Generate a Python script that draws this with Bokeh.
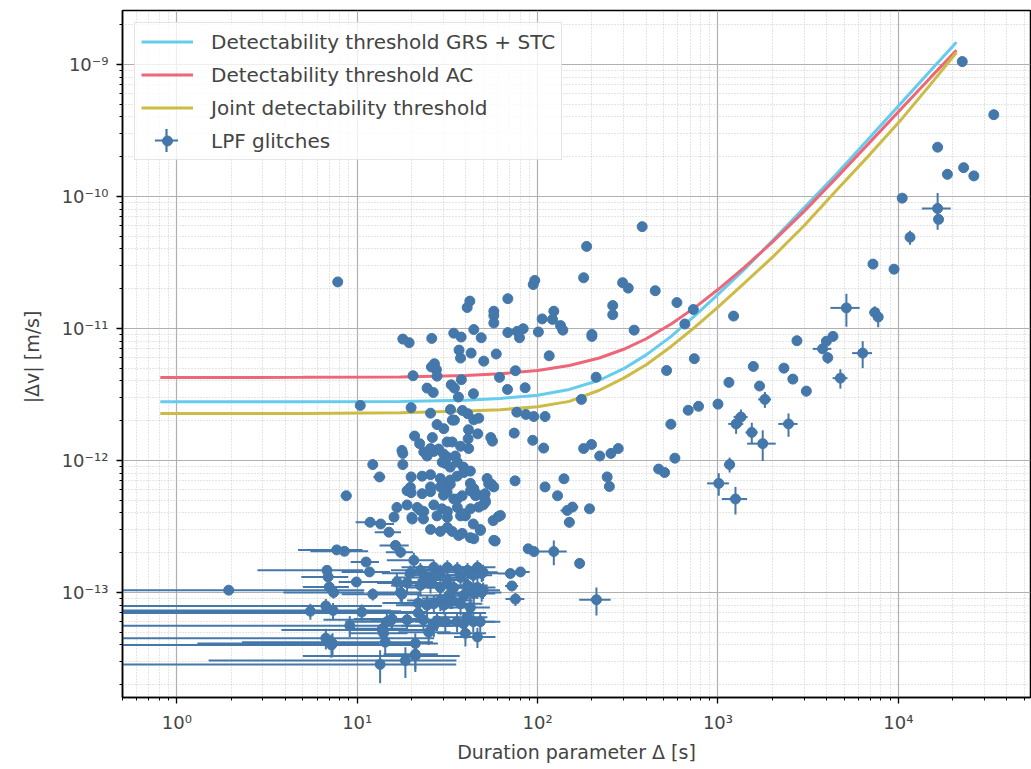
import numpy as np
from bokeh.plotting import figure
from bokeh.models import Legend, LegendItem, CustomJSTickFormatter, LogTicker, Range1d
from bokeh.embed import file_html
from bokeh.resources import INLINE

# ---------------- data ----------------
threshold_duration = [0.81, 5, 17.4, 40, 62, 100, 150, 220, 300, 400, 550, 750, 1000, 1400, 2000, 3000,
                      4500, 7000, 10500, 15000, 20980]
threshold_grs_stc = [2.78e-12, 2.78e-12, 2.8e-12, 2.86e-12, 2.95e-12, 3.12e-12, 3.45e-12, 4.05e-12, 4.95e-12,
                     6.3e-12, 8.7e-12, 1.26e-11, 1.81e-11, 2.8e-11, 4.6e-11, 8.2e-11, 1.46e-10, 2.83e-10,
                     5.2e-10, 8.9e-10, 1.47e-9]
threshold_ac = [4.25e-12, 4.26e-12, 4.29e-12, 4.4e-12, 4.53e-12, 4.8e-12, 5.24e-12, 5.97e-12, 6.95e-12,
                8.35e-12, 1.08e-11, 1.45e-11, 1.97e-11, 2.9e-11, 4.5e-11, 7.7e-11, 1.37e-10, 2.6e-10,
                4.7e-10, 7.9e-10, 1.28e-9]
threshold_joint = [2.27e-12, 2.27e-12, 2.3e-12, 2.37e-12, 2.42e-12, 2.55e-12, 2.8e-12, 3.4e-12, 4.2e-12,
                   5.3e-12, 7.3e-12, 1.03e-11, 1.45e-11, 2.2e-11, 3.45e-11, 6.0e-11, 1.1e-10, 2.1e-10,
                   3.9e-10, 7.0e-10, 1.23e-9]

# glitches whose error bars are hidden behind the marker
glitch_duration = [
    22600, 33800, 16500, 23000, 26200, 10500, 16700, 380, 7230, 9460, 4340, 3990, 2740, 1570, 2320, 1700,
    1150, 1000, 684, 780, 548, 592, 730, 655, 1220, 449, 343, 296, 318, 261, 261, 187, 180, 200, 200, 211,
    519, 739, 175, 180, 199, 221, 255, 280, 577, 469, 506, 243, 194, 140, 110, 129, 88.7, 95.5,
    7.8, 96.5, 94.6, 68.4, 42.1, 40.7, 57.2, 57.2, 57.2, 123, 121, 106, 134, 138, 101, 68.4, 77.1, 83.2,
    79.4, 44.3, 48.7, 34.3, 37.7, 25.9, 17.9, 19.4, 116, 36.7, 37.4, 42.8, 59, 50.3, 26.8, 25.8, 27.5,
    27.7, 20.4, 37.8, 61.5, 75.4, 33.2, 34.6, 24.4, 26.4, 44.1, 68.1, 85.3, 36.4, 10.4, 19.9, 25.5, 32.9,
    38.3, 41, 44.3, 47.2, 33.7, 34.6, 76.7, 86.1, 95.3, 110, 27.7, 30.2, 41.4, 41.2, 46.6, 20.8, 26.1,
    22.2, 74.2, 55, 56.2, 94, 108, 31.5, 33.6, 37.4, 41.5, 23.4, 26.6, 28.3, 17.7, 17.9, 17.9, 12.2,
    19.9, 22.9, 25.5, 35.8, 39, 52.5, 55.5, 75, 44.3, 30.1, 31.6, 29.6, 30.8, 32.8, 35, 35.9, 38.8, 39.8,
    24.4, 25.5, 28.9, 30.1, 32.8, 42.4, 44, 19.7, 25.5, 28.9, 32.8, 42.4,
    18.9, 19.9, 22.9, 25.5, 30.1, 31.5, 34.3, 35.9, 38.2, 42.5, 45.3, 50.4, 53.6, 57.2, 43.4, 46.4, 51.2,
    51.2, 16.6, 18.9, 21.5, 23.4, 26.6, 29.5, 31.6, 35.9, 49.9, 20.1, 23.3, 27.7, 31.6, 37.4, 39.8, 44,
    48.1, 56.7, 60.5, 58.2, 25.5, 28.9, 31.6, 33.6, 38.2, 42.4, 22.4, 39, 42.5, 47.2, 51.4, 36.5, 44.3,
    48.2, 62.2, 57.2, 16.0, 20.2,
]
glitch_dv = [
    1.05e-9, 4.16e-10, 2.36e-10, 1.65e-10, 1.43e-10, 9.7e-11, 6.7e-11, 5.9e-11, 3.07e-11, 2.81e-11, 8.7e-12,
    8.0e-12, 8.07e-12, 5.15e-12, 5.0e-12, 3.66e-12, 3.9e-12, 2.67e-12, 2.4e-12, 2.57e-12, 1.88e-12,
    1.57e-11, 1.39e-11, 1.08e-11, 1.24e-11, 1.93e-11, 9.7e-12, 2.22e-11, 2.02e-11, 1.49e-11, 1.27e-11,
    4.18e-11, 2.42e-11, 9.0e-12, 8.7e-12, 4.27e-12, 4.8e-12, 5.9e-12, 2.9e-12, 1.23e-12, 1.32e-12,
    1.08e-12, 1.13e-12, 1.23e-12, 1.04e-12, 8.6e-13, 8.1e-13, 7.5e-13, 4.3e-13, 7.26e-13, 6.3e-13,
    5.4e-13, 2.14e-13, 2.04e-13,
    2.25e-11, 2.31e-11, 2.15e-11, 1.68e-11, 1.61e-11, 1.44e-11, 1.35e-11, 1.25e-11, 1.1e-11, 1.35e-11,
    1.17e-11, 1.18e-11, 1.05e-11, 9.7e-12, 9.4e-12, 9.3e-12, 9.5e-12, 9.95e-12, 8.5e-12, 9.8e-12, 8.5e-12,
    9.2e-12, 8.6e-12, 8.4e-12, 8.3e-12, 7.8e-12, 6.2e-12, 6.85e-12, 5.96e-12, 6.5e-12, 6.4e-12, 5.65e-12,
    5.4e-12, 5.1e-12, 4.87e-12, 4.35e-12, 4.38e-12, 4.09e-12, 4.26e-12, 4.78e-12, 3.74e-12, 3.53e-12,
    3.53e-12, 3.27e-12, 3.2e-12, 3.45e-12, 3.55e-12, 3.02e-12, 2.61e-12, 2.51e-12, 2.28e-12, 2.43e-12,
    2.39e-12, 2.26e-12, 2.03e-12, 2.09e-12, 2.02e-12, 2.02e-12, 2.32e-12, 2.23e-12, 2.15e-12, 2.15e-12,
    1.87e-12, 1.74e-12, 1.71e-12, 1.46e-12, 1.59e-12, 1.53e-12, 1.49e-12, 1.34e-12, 1.61e-12, 1.49e-12,
    1.4e-12, 1.42e-12, 1.24e-12, 1.38e-12, 1.38e-12, 1.28e-12, 1.23e-12, 1.16e-12, 1.17e-12, 1.22e-12,
    1.19e-12, 1.13e-12, 9.3e-13, 9.3e-13, 7.5e-13, 7.6e-13, 7.8e-13, 7.6e-13, 8.1e-13, 7.3e-13, 6.6e-13,
    7.0e-13, 6.1e-13, 1.12e-12, 1.06e-12, 9.7e-13, 9.5e-13, 8.9e-13, 1.08e-12, 9.7e-13, 8.9e-13, 8.3e-13,
    1.08e-12, 1.23e-12, 7.3e-13, 6.7e-13, 6.6e-13, 6.7e-13, 6.0e-13, 6.25e-13, 6.3e-13, 6.3e-13, 7.1e-13,
    8.3e-13,
    5.9e-13, 5.7e-13, 5.6e-13, 5.8e-13, 5.45e-13, 5.75e-13, 5.1e-13, 5.1e-13, 5.4e-13, 5.9e-13, 5.4e-13,
    5.4e-13, 6.65e-13, 6.3e-13, 5.8e-13, 5.5e-13, 5.6e-13, 5.0e-13, 4.4e-13, 4.6e-13, 4.4e-13, 4.1e-13,
    4.6e-13, 4.3e-13, 4.1e-13, 4.4e-13, 4.6e-13, 3.7e-13, 3.6e-13, 3.8e-13, 3.7e-13, 3.8e-13, 3.8e-13,
    3.3e-13, 3.0e-13, 3.5e-13, 3.75e-13, 2.45e-13, 3.0e-13, 2.9e-13, 3.1e-13, 2.9e-13, 2.8e-13, 2.6e-13,
    4.18e-13, 3.94e-13, 4.3e-13, 4.43e-13, 4.83e-13, 2.7e-13, 2.55e-13, 2.95e-13, 3.83e-13, 2.48e-13,
    3.72e-13, 3.6e-13,
]

# glitches with visible error bars: value and symmetric uncertainty
glitch_eb_duration = [
    16500, 11600, 18700, 5150, 7400, 7730, 3800, 6340, 4060, 4770, 2600, 3090, 1820, 1340, 1260, 1540,
    1770, 2460, 1160, 1010, 1250, 250, 123, 212, 171, 146, 156, 150, 75.4, 70.6, 80.4, 72,
    8.7, 13.3, 11.8, 13.5, 15, 16.3, 17.4, 7.7, 8.5, 11.2, 6.8, 11.7, 6.9, 9.9, 7.0, 1.94, 7.4, 6.7,
    5.5, 10.6, 9.1, 15.5, 13.8, 6.7, 7.2, 14.3, 21, 18.5, 13.4, 21.8,
    20.6, 22.4, 26.6, 28.9, 31.6, 35.9, 40.9, 46.4, 49.9, 19.7, 24.0, 27.3, 31.6, 37.4, 44, 49, 16.6,
    18.9, 22.4, 25.5, 28.9, 34.3, 40.9, 46.4, 49.9, 17.4, 21.8, 24.4, 28.9, 32.8, 37.4, 42.4, 12.2, 17.7,
    32.2, 39, 44.3, 49, 26.6, 30.2, 33.6, 7.35, 14.6, 18.9, 23.3, 26.6, 38.8, 44, 48.1, 27.7, 30.8, 35.8,
    40.7, 24.9, 14.0, 39.8, 46.4, 21, 21, 13.8, 7.3, 15.6,
]
glitch_eb_dv = [
    8.1e-11, 4.9e-11, 1.47e-10, 1.43e-11, 1.32e-11, 1.22e-11, 7.0e-12, 6.5e-12, 6.0e-12, 4.2e-12, 4.13e-12,
    3.35e-12, 2.9e-12, 2.13e-12, 1.89e-12, 1.63e-12, 1.34e-12, 1.89e-12, 9.3e-13, 6.7e-13, 5.1e-13,
    6.35e-13, 2.04e-13, 8.8e-14, 1.66e-13, 4.18e-13, 4.43e-13, 3.4e-13, 8.9e-14, 1.39e-13, 1.43e-13,
    1.12e-13,
    5.4e-13, 7.5e-13, 3.4e-13, 3.3e-13, 2.86e-13, 2.27e-13, 2.02e-13, 2.1e-13, 2.05e-13, 1.7e-13, 1.47e-13,
    1.43e-13, 1.31e-13, 1.2e-13, 1.1e-13, 1.04e-13, 1.0e-13, 7.9e-14, 7.2e-14, 7.1e-14, 5.6e-14, 6.2e-14,
    5.2e-14, 4.5e-14, 4.0e-14, 4.2e-14, 3.3e-14, 3.05e-14, 2.85e-14, 7.0e-14,
    1.75e-13, 1.47e-13, 1.55e-13, 1.42e-13, 1.55e-13, 1.5e-13, 1.47e-13, 1.55e-13, 1.42e-13, 1.4e-13,
    1.3e-13, 1.35e-13, 1.24e-13, 1.3e-13, 1.35e-13, 1.4e-13, 1.2e-13, 1.18e-13, 1.13e-13, 1.18e-13,
    1.09e-13, 1.09e-13, 1.13e-13, 1.09e-13, 1.04e-13, 1.0e-13, 8.3e-14, 8.0e-14, 8.7e-14, 9.0e-14, 8.2e-14,
    7.7e-14, 9.7e-14, 9.7e-14, 9.5e-14, 9.5e-14, 9.8e-14, 1.0e-13, 8.2e-14, 8.0e-14, 8.7e-14, 7.3e-14,
    6.0e-14, 6.2e-14, 6.2e-14, 5.6e-14, 5.8e-14, 6.0e-14, 6.0e-14, 6.1e-14, 6.0e-14, 6.0e-14, 6.5e-14,
    5.0e-14, 4.9e-14, 4.9e-14, 4.6e-14, 4.1e-14, 3.4e-14, 5.3e-14, 4.1e-14, 6.3e-14,
]
glitch_eb_duration_err = [
    3000, 500, 500, 950, 500, 400, 450, 800, 200, 450, 150, 180, 150, 120, 120, 120, 320, 300, 80, 140, 200,
    15, 22, 42, 10, 12, 12, 10, 9, 10, 10, 6,
    0.6, 1.0, 2, 2.5, 2.5, 3, 3, 3, 3, 2, 4, 3.5, 2, 2, 2, 9, 3.5, 7, 12, 14, 25, 9, 10, 20, 15, 12, 16, 17,
    22, 30,
    6, 7, 9, 8, 10, 12, 10, 12, 10, 6, 8, 9, 10, 12, 12, 12, 5, 6, 7, 8, 10, 10, 12, 12, 12, 5, 8, 8, 10, 10,
    12, 12, 4, 5, 10, 12, 14, 14, 9, 10, 10, 8, 6, 7, 8, 9, 12, 14, 14, 9, 10, 11, 12, 8, 5, 12, 12, 7, 7, 5,
    6, 6,
]
glitch_eb_dv_err = [
    2.5e-11, 6e-12, 1.2e-11, 4e-12, 1.5e-12, 2e-12, 5e-13, 1.5e-12, 6e-13, 7e-13, 3e-13, 3e-13, 4e-13, 3e-13,
    3e-13, 3e-13, 3.5e-13, 3.8e-13, 1.2e-13, 1.3e-13, 1.2e-13, 5e-14, 4.3e-14, 2.1e-14, 1.5e-14, 3e-14,
    3e-14, 3e-14, 1e-14, 1e-14, 1e-14, 1e-14,
    0, 0, 2e-14, 2e-14, 2e-14, 2e-14, 2e-14, 1e-14, 1e-14, 1e-14, 1e-14, 1e-14, 1e-14, 1e-14, 1e-14, 5e-15,
    1e-14, 1e-14, 1e-14, 1e-14, 1e-14, 1e-14, 8e-15, 8e-15, 8e-15, 8e-15, 8e-15, 8e-15, 8e-15, 1e-14,
    2.5e-14, 2e-14, 2e-14, 2e-14, 2e-14, 2e-14, 2e-14, 2e-14, 2e-14, 2e-14, 2e-14, 2e-14, 2e-14, 2e-14,
    2e-14, 2e-14, 2e-14, 2e-14, 2e-14, 2e-14, 2e-14, 2e-14, 2e-14, 2e-14, 1.5e-14, 1.5e-14, 1.5e-14,
    1.5e-14, 1.5e-14, 1.5e-14, 1.5e-14, 1.5e-14, 1e-14, 1.5e-14, 1.5e-14, 1.5e-14, 1.5e-14, 1.5e-14,
    1.2e-14, 1.2e-14, 1.2e-14, 1e-14, 1e-14, 1e-14, 1e-14, 1e-14, 1e-14, 1e-14, 1e-14, 1e-14, 1e-14,
    1e-14, 1e-14, 1e-14, 1e-14, 1e-14, 8e-15, 8e-15, 8e-15, 8e-15, 8e-15, 1e-14,
]

# ---------------- styling ----------------
BLUE = "#4477AA"
CYAN = "#66CCEE"
RED = "#EE6677"
YELLOW = "#CCBB44"
FONT = "DejaVu Sans"

p = figure(width=1031, height=769, x_axis_type="log", y_axis_type="log",
           x_range=Range1d(0.5, 54000), y_range=Range1d(1.6e-14, 2.56e-9),
           output_backend="svg", toolbar_location=None,
           min_border_left=122, min_border_right=1, min_border_top=10, min_border_bottom=72)
p.background_fill_color = "white"
p.outline_line_color = "black"
p.outline_line_width = 1.5

for ax in (p.xaxis[0], p.yaxis[0]):
    ax.ticker = LogTicker(desired_num_ticks=8, num_minor_ticks=10)
    ax.axis_line_width = 1.5
    ax.major_tick_out = 6
    ax.major_tick_in = 0
    ax.minor_tick_out = 3
    ax.minor_tick_in = 0
    ax.major_tick_line_width = 1.3
    ax.minor_tick_line_width = 1.0
    ax.major_label_text_font = FONT
    ax.major_label_text_font_size = "18px"
    ax.axis_label_text_font = FONT
    ax.axis_label_text_font_size = "19px"
    ax.axis_label_text_font_style = "normal"
    ax.formatter = CustomJSTickFormatter(code="""
const e = Math.round(Math.log10(tick));
const m = {'-': '\u207b', '0': '\u2070', '1': '\u00b9', '2': '\u00b2', '3': '\u00b3', '4': '\u2074',
           '5': '\u2075', '6': '\u2076', '7': '\u2077', '8': '\u2078', '9': '\u2079'};
return '10' + String(e).split('').map(c => m[c]).join('');
""")
p.xaxis.axis_label = "Duration parameter \u0394 [s]"
p.yaxis.axis_label = "|\u0394v|  [m/s]"
p.xaxis.major_label_standoff = 8
p.yaxis.major_label_standoff = 8
p.yaxis.axis_label_standoff = 16

p.grid.grid_line_color = "#b0b0b0"
p.grid.grid_line_width = 1.2
p.grid.minor_grid_line_color = "#c4c4c4"
p.grid.minor_grid_line_width = 0.9
p.grid.minor_grid_line_dash = "1 2"

# threshold curves
r_cyan = p.line(threshold_duration, threshold_grs_stc, line_color=CYAN, line_width=3)
r_red = p.line(threshold_duration, threshold_ac, line_color=RED, line_width=3)
r_yel = p.line(threshold_duration, threshold_joint, line_color=YELLOW, line_width=3)

# error bars
bx = np.array(glitch_eb_duration, dtype=float)
by = np.array(glitch_eb_dv, dtype=float)
bxe = np.array(glitch_eb_duration_err, dtype=float)
bye = np.array(glitch_eb_dv_err, dtype=float)
p.segment(x0=np.maximum(bx - bxe, 1e-3), x1=bx + bxe, y0=by, y1=by, line_color=BLUE, line_width=2)
p.segment(x0=bx, x1=bx, y0=np.maximum(by - bye, 1e-20), y1=by + bye, line_color=BLUE, line_width=2)

# markers
p.scatter(bx, by, size=10, fill_color=BLUE, line_color=BLUE)
r_dot = p.scatter(glitch_duration, glitch_dv, size=10, fill_color=BLUE, line_color=BLUE)
# legend-only error-bar cross (a single undefined point, so nothing is drawn in the plot area)
r_cross = p.scatter(x=[float("nan")], y=[float("nan")], marker="cross", size=23,
                    line_color=BLUE, line_width=2.2)

legend = Legend(items=[
    LegendItem(label="Detectability threshold GRS + STC", renderers=[r_cyan]),
    LegendItem(label="Detectability threshold AC", renderers=[r_red]),
    LegendItem(label="Joint detectability threshold", renderers=[r_yel]),
    LegendItem(label="LPF glitches", renderers=[r_dot]),
], location="top_left", margin=12, padding=6, spacing=8,
    glyph_width=52, glyph_height=25, label_height=25, label_standoff=18,
    label_text_font=FONT, label_text_font_size="20px",
    border_line_color="#cccccc", border_line_width=1.2,
    background_fill_color="white", background_fill_alpha=0.8)
p.add_layout(legend)

legend_cross = Legend(items=[LegendItem(label=" ", renderers=[r_cross])],
                      location=(15, 528), margin=0, padding=0, spacing=0,
                      glyph_width=58, glyph_height=58, label_height=58, label_standoff=15,
                      label_text_font=FONT, label_text_font_size="20px",
                      border_line_color=None, background_fill_alpha=0)
p.add_layout(legend_cross)

open("out.html", "w").write(file_html(p, INLINE))
